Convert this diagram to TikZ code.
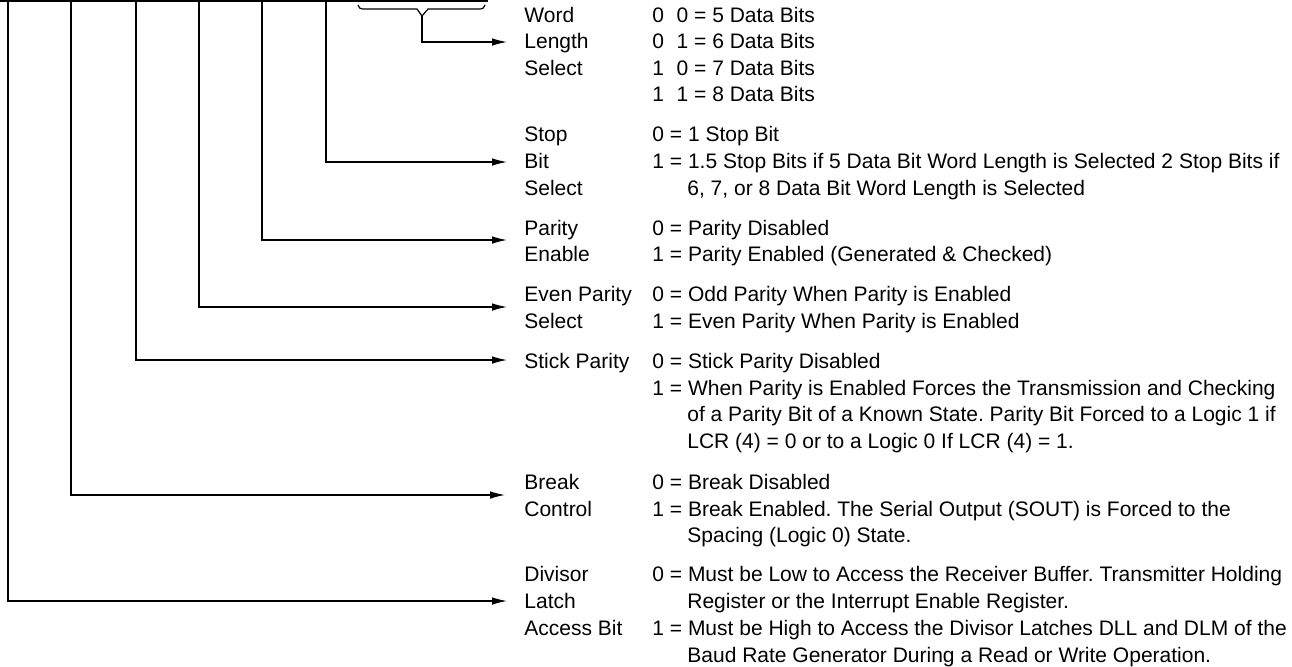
\documentclass[tikz,border=0pt]{standalone}
\usepackage{fontspec}
\setmainfont{Liberation Sans}
\usetikzlibrary{arrows.meta}
\frenchspacing
\begin{document}
\begin{tikzpicture}[x=0.5pt,y=-0.5pt,
  wire/.style={line width=0.6pt},
  arr/.style={wire,-{Latex[length=7.5pt,width=3.8pt]}},
  txt/.style={anchor=base west, inner sep=0pt, font=\fontsize{10.5pt}{13pt}\selectfont},
]
\useasboundingbox (0,0) rectangle (1292,666);

% register top line and bit lines
\coordinate (regL) at (0,1);
\coordinate (regR) at (488,1);
\draw[wire] (regL) -- (regR);
\coordinate (b2) at (326,0);
\coordinate (b3) at (262,0);
\coordinate (b4) at (199,0);
\coordinate (b5) at (136,0);
\coordinate (b6) at (71,0);
\coordinate (b7) at (8,0);

% brace over bits 0 and 1
\coordinate (brtip) at (422,16);
\draw[wire] (358,5) .. controls (359,8) and (360,9) .. (364,9) -- (417,9) -- (brtip) -- (428,9) -- (479,9) .. controls (483,9) and (484,8) .. (485,5);

% arrow end points
\coordinate (tWord) at (507,42);
\coordinate (tStop) at (507,162);
\coordinate (tPar) at (507,240);
\coordinate (tEven) at (507,307);
\coordinate (tStick) at (507,360);
\coordinate (tBreak) at (505,495);
\coordinate (tDlab) at (507,601);

\draw[arr] (brtip) |- (tWord);
\draw[arr] (b2) |- (tStop);
\draw[arr] (b3) |- (tPar);
\draw[arr] (b4) |- (tEven);
\draw[arr] (b5) |- (tStick);
\draw[arr] (b6) |- (tBreak);
\draw[arr] (b7) |- (tDlab);

% Word length select
\node[txt] (lw1) at (524,22) {Word};
\node[txt] (lw2) at (524,48.5) {Length};
\node[txt] (lw3) at (524,75) {Select};
\node[txt] (vw1) at (652,22) {0\hspace{0.6em}0 = 5 Data Bits};
\node[txt] (vw2) at (652,48.5) {0\hspace{0.6em}1 = 6 Data Bits};
\node[txt] (vw3) at (652,75) {1\hspace{0.6em}0 = 7 Data Bits};
\node[txt] (vw4) at (652,101) {1\hspace{0.6em}1 = 8 Data Bits};

% Stop bit select
\node[txt] (ls1) at (524,141.5) {Stop};
\node[txt] (ls2) at (524,168) {Bit};
\node[txt] (ls3) at (524,195) {Select};
\node[txt] (vs1) at (652,141.5) {0 = 1 Stop Bit};
\node[txt] (vs2) at (652,168) {1 = 1.5 Stop Bits if 5 Data Bit Word Length is Selected 2 Stop Bits if};
\node[txt] (vs3) at (687,195) {6, 7, or 8 Data Bit Word Length is Selected};

% Parity enable
\node[txt] (lp1) at (524,235) {Parity};
\node[txt] (lp2) at (524,261.5) {Enable};
\node[txt] (vp1) at (652,235) {0 = Parity Disabled};
\node[txt] (vp2) at (652,261.5) {1 = Parity Enabled (Generated \& Checked)};

% Even parity select
\node[txt] (le1) at (524,301.5) {Even Parity};
\node[txt] (le2) at (524,328) {Select};
\node[txt] (ve1) at (652,301.5) {0 = Odd Parity When Parity is Enabled};
\node[txt] (ve2) at (652,328) {1 = Even Parity When Parity is Enabled};

% Stick parity
\node[txt] (lk1) at (524,368) {Stick Parity};
\node[txt] (vk1) at (652,368) {0 = Stick Parity Disabled};
\node[txt] (vk2) at (652,395) {1 = When Parity is Enabled Forces the Transmission and Checking};
\node[txt] (vk3) at (687,421.5) {of a Parity Bit of a Known State. Parity Bit Forced to a Logic 1 if};
\node[txt] (vk4) at (687,448) {LCR (4) = 0 or to a Logic 0 If LCR (4) = 1.};

% Break control
\node[txt] (lb1) at (524,489) {Break};
\node[txt] (lb2) at (524,516) {Control};
\node[txt] (vb1) at (652,489) {0 = Break Disabled};
\node[txt] (vb2) at (652,516) {1 = Break Enabled. The Serial Output (SOUT) is Forced to the};
\node[txt] (vb3) at (687,542.5) {Spacing (Logic 0) State.};

% Divisor latch access bit
\node[txt] (ld1) at (524,581) {Divisor};
\node[txt] (ld2) at (524,608) {Latch};
\node[txt] (ld3) at (524,635.5) {Access Bit};
\node[txt] (vd1) at (652,581) {0 = Must be Low to Access the Receiver Buffer. Transmitter Holding};
\node[txt] (vd2) at (687,608) {Register or the Interrupt Enable Register.};
\node[txt] (vd3) at (652,635.5) {1 = Must be High to Access the Divisor Latches DLL and DLM of the};
\node[txt] (vd4) at (687,662) {Baud Rate Generator During a Read or Write Operation.};
\end{tikzpicture}
\end{document}
